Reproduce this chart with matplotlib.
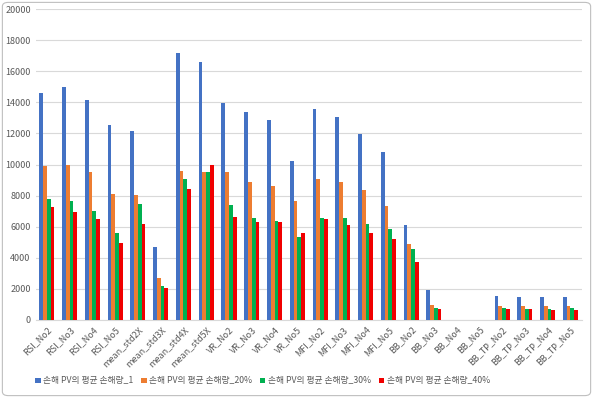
import numpy as np
import matplotlib
matplotlib.use('Agg')
import matplotlib.pyplot as plt
from matplotlib.patches import FancyBboxPatch

# 한글 폰트 설정
plt.rcParams['font.family'] = ['Noto Sans CJK KR', 'DejaVu Sans']
plt.rcParams['axes.unicode_minus'] = False

# 데이터
categories = [
    'RSI_No2', 'RSI_No3', 'RSI_No4', 'RSI_No5',
    'mean_std2X', 'mean_std3X', 'mean_std4X', 'mean_std5X',
    'VR_No2', 'VR_No3', 'VR_No4', 'VR_No5',
    'MFI_No2', 'MFI_No3', 'MFI_No4', 'MFI_No5',
    'BB_No2', 'BB_No3', 'BB_No4', 'BB_No5',
    'BB_TP_No2', 'BB_TP_No3', 'BB_TP_No4', 'BB_TP_No5',
]
loss_1 = [14600, 15000, 14150, 12550, 12150, 4700, 17150, 16600,
          13950, 13400, 12900, 10250, 13600, 13050, 11950, 10800,
          6100, 1950, 0, 0, 1550, 1450, 1450, 1500]
loss_20 = [9900, 10000, 9500, 8100, 8050, 2700, 9600, 9550,
           9550, 8850, 8650, 7650, 9050, 8900, 8350, 7350,
           4920, 960, 0, 0, 880, 900, 900, 900]
loss_30 = [7800, 7650, 7000, 5600, 7450, 2200, 9100, 9550,
           7400, 6550, 6350, 5350, 6550, 6550, 6200, 5850,
           4540, 800, 0, 0, 740, 700, 700, 790]
loss_40 = [7300, 6950, 6500, 4950, 6200, 2050, 8450, 10000,
           6650, 6300, 6300, 5600, 6500, 6100, 5600, 5200,
           3710, 690, 0, 0, 680, 700, 660, 670]
series_names = ['손해 PV의 평균 손해량_1', '손해 PV의 평균 손해량_20%',
                '손해 PV의 평균 손해량_30%', '손해 PV의 평균 손해량_40%']
colors = ['#4472C4', '#ED7D31', '#00B050', '#F00000']

fig = plt.figure(figsize=(5.93, 3.98), dpi=100)
ax = fig.add_axes([0.060, 0.196, 0.921, 0.781])

x = np.arange(len(categories))
width = 0.165
all_series = [loss_1, loss_20, loss_30, loss_40]
for i, (vals, name, c) in enumerate(zip(all_series, series_names, colors)):
    ax.bar(x + (i - 1.5) * width, vals, width, color=c, label=name, zorder=3)

ax.set_xlim(-0.5, len(categories) - 0.5)
ax.set_ylim(0, 20000)
ax.set_yticks(range(0, 20001, 2000))
ax.grid(axis='y', color='#D9D9D9', linewidth=0.8, zorder=0)
for s in ['top', 'right', 'left']:
    ax.spines[s].set_visible(False)
ax.spines['bottom'].set_color('#D9D9D9')
ax.tick_params(axis='both', length=0, labelsize=6.5, labelcolor='#595959')
ax.set_xticks(x)
ax.set_xticklabels(categories, rotation=45, ha='right', rotation_mode='anchor')

ax.legend(loc='center', bbox_to_anchor=(0.443, 0.043), bbox_transform=fig.transFigure,
          ncol=4, frameon=False, fontsize=6.3, handlelength=0.6, handleheight=0.6,
          handletextpad=0.3, columnspacing=0.9, labelcolor='#595959')

# 차트 테두리
border = FancyBboxPatch((0.004, 0.006), 0.992, 0.988, boxstyle='round,pad=0,rounding_size=0.01',
                        transform=fig.transFigure, fill=False, edgecolor='#BFBFBF', linewidth=0.8)
fig.patches.append(border)

fig.savefig('out.png', dpi=100)
